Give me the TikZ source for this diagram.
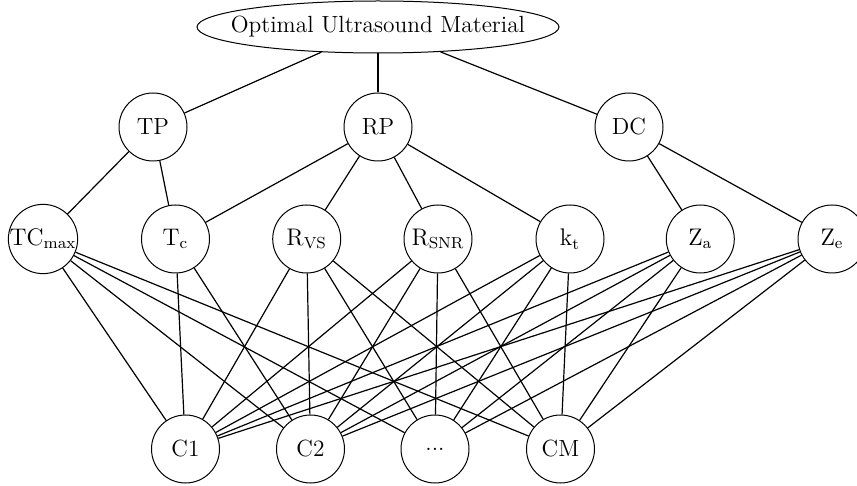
\documentclass[tikz,border=0pt]{standalone}
\usetikzlibrary{shapes.geometric}
\begin{document}
\begin{tikzpicture}[x=0.5pt,y=-0.5pt,
  every node/.style={font=\fontsize{11.7}{14}\selectfont},
  crit/.style={circle,draw,line width=0.5pt,minimum size=34pt,inner sep=0pt},
  goal/.style={ellipse,draw,line width=0.5pt,minimum width=181pt,minimum height=26pt,
               inner xsep=-12pt,inner ysep=0pt},
  link/.style={line width=0.6pt}]
\useasboundingbox (0,0) rectangle (857,486);

% goal
\node[goal] (goal) at (378,27) {Optimal Ultrasound Material};

% criteria
\node[crit] (TP) at (153,127) {TP};
\node[crit] (RP) at (378,127) {RP};
\node[crit] (DC) at (629,127) {DC};

% sub-criteria
\node[crit] (TCmax) at (43,239) {$\mathrm{TC}_{\mathrm{max}}$};
\node[crit] (Tc)    at (175.5,239) {$\mathrm{T}_{\mathrm{c}}$};
\node[crit] (RVS)   at (306.7,239) {$\mathrm{R}_{\mathrm{VS}}$};
\node[crit] (RSNR)  at (438,239) {$\mathrm{R}_{\mathrm{SNR}}$};
\node[crit] (kt)    at (570,239) {$\mathrm{k}_{\mathrm{t}}$};
\node[crit] (Za)    at (700.3,239) {$\mathrm{Z}_{\mathrm{a}}$};
\node[crit] (Ze)    at (832,239) {$\mathrm{Z}_{\mathrm{e}}$};

% alternatives
\node[crit] (C1) at (185.5,449) {C1};
\node[crit] (C2) at (310.5,449) {C2};
\node[crit] (Cd) at (435,449) {...};
\node[crit] (CM) at (560.5,449) {CM};

% hierarchy links
\foreach \a/\b in {goal/TP,goal/RP,goal/DC,
                   TP/TCmax,TP/Tc,
                   RP/Tc,RP/RVS,RP/RSNR,RP/kt,
                   DC/Za,DC/Ze,
                   Tc/C1,Tc/C2}
  \draw[link] (\a) -- (\b);
\foreach \a in {TCmax,RVS,RSNR,kt,Za,Ze}
  \foreach \b in {C1,C2,Cd,CM}
    \draw[link] (\a) -- (\b);
\end{tikzpicture}
\end{document}
